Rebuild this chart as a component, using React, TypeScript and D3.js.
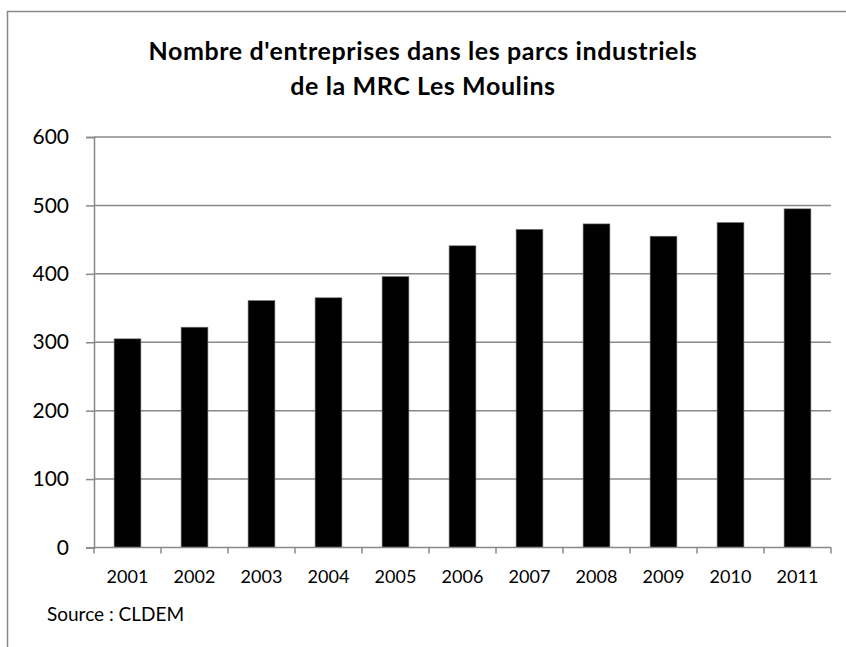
import React, { useEffect, useRef } from 'react'
import * as d3 from 'd3'

const years = ['2001', '2002', '2003', '2004', '2005', '2006', '2007', '2008', '2009', '2010', '2011']
const companies = [305, 322, 361, 365, 396, 441, 465, 473, 455, 475, 495]
const yTicks = [0, 100, 200, 300, 400, 500, 600]
const titleLines = ["Nombre d'entreprises dans les parcs industriels", 'de la MRC Les Moulins']
const sourceText = 'Source : CLDEM'

const App = () => {
  const ref = useRef<SVGSVGElement>(null)

  useEffect(() => {
    const width = 846
    const height = 647
    const margin = { top: 137, right: 15, bottom: 100, left: 94 }
    const plotRight = 831
    const font = 'Lato, "Open Sans", sans-serif'

    const svg = d3.select(ref.current)
    svg.selectAll('*').remove()
    svg.attr('width', width).attr('height', height)

    // chart frame
    svg
      .append('rect')
      .attr('x', 7.5)
      .attr('y', 11.5)
      .attr('width', width)
      .attr('height', height)
      .attr('fill', 'white')
      .attr('stroke', '#888')
      .attr('stroke-width', 1.5)

    // title
    svg
      .append('g')
      .selectAll('text')
      .data(titleLines)
      .enter()
      .append('text')
      .attr('x', 423)
      .attr('y', (d, i) => 59.5 + i * 35.5)
      .attr('text-anchor', 'middle')
      .style('font-family', font)
      .style('font-weight', 'bold')
      .style('font-size', '25px')
      .style('letter-spacing', '0.6px')
      .style('fill', '#000')
      .text((d) => d)

    const x = d3
      .scaleBand()
      .domain(years)
      .range([margin.left, plotRight])
      .paddingInner(0.6)
      .paddingOuter(0.3)

    const y = d3.scaleLinear().domain([0, 600]).range([547.5, margin.top])

    // gridlines
    svg
      .append('g')
      .selectAll('line')
      .data(yTicks.filter((d) => d > 0))
      .enter()
      .append('line')
      .attr('x1', margin.left)
      .attr('x2', plotRight)
      .attr('y1', (d) => y(d))
      .attr('y2', (d) => y(d))
      .attr('stroke', '#888')
      .attr('stroke-width', 1.5)

    // bars
    svg
      .append('g')
      .selectAll('rect')
      .data(companies)
      .enter()
      .append('rect')
      .attr('x', (d, i) => x(years[i]))
      .attr('y', (d) => y(d))
      .attr('width', x.bandwidth())
      .attr('height', (d) => y(0) - y(d))
      .attr('fill', '#000')
      .attr('stroke', '#777')
      .attr('stroke-width', 0.6)

    // y axis
    const yAxis = svg
      .append('g')
      .attr('transform', `translate(${margin.left},0)`)
      .call(d3.axisLeft(y).tickValues(yTicks).tickSize(8).tickPadding(17))
    yAxis.select('.domain').attr('stroke', '#888').attr('stroke-width', 1.5)
    yAxis.selectAll('.tick line').attr('stroke', '#888').attr('stroke-width', 1.5)
    yAxis
      .selectAll('.tick text')
      .style('font-family', font)
      .style('font-size', '21px')
      .attr('fill', '#000')

    // x axis with ticks at band edges
    const edges = d3.range(years.length + 1).map((i) => margin.left + i * x.step())
    const xAxis = svg.append('g')
    xAxis
      .append('line')
      .attr('x1', margin.left)
      .attr('x2', plotRight)
      .attr('y1', y(0))
      .attr('y2', y(0))
      .attr('stroke', '#888')
      .attr('stroke-width', 1.5)
    xAxis
      .selectAll('line.edge')
      .data(edges)
      .enter()
      .append('line')
      .attr('class', 'edge')
      .attr('x1', (d) => d)
      .attr('x2', (d) => d)
      .attr('y1', y(0))
      .attr('y2', y(0) + 6)
      .attr('stroke', '#888')
      .attr('stroke-width', 1.5)
    xAxis
      .selectAll('text')
      .data(years)
      .enter()
      .append('text')
      .attr('x', (d) => x(d) + x.bandwidth() / 2)
      .attr('y', 583)
      .attr('text-anchor', 'middle')
      .style('font-family', font)
      .style('font-size', '18px')
      .text((d) => d)

    // source note
    svg
      .append('text')
      .attr('x', 47)
      .attr('y', 621)
      .style('font-family', font)
      .style('font-size', '19px')
      .text(sourceText)
  }, [])

  return <svg ref={ref} style={{ position: 'absolute', left: 0, top: 0 }}></svg>
}

export default App
